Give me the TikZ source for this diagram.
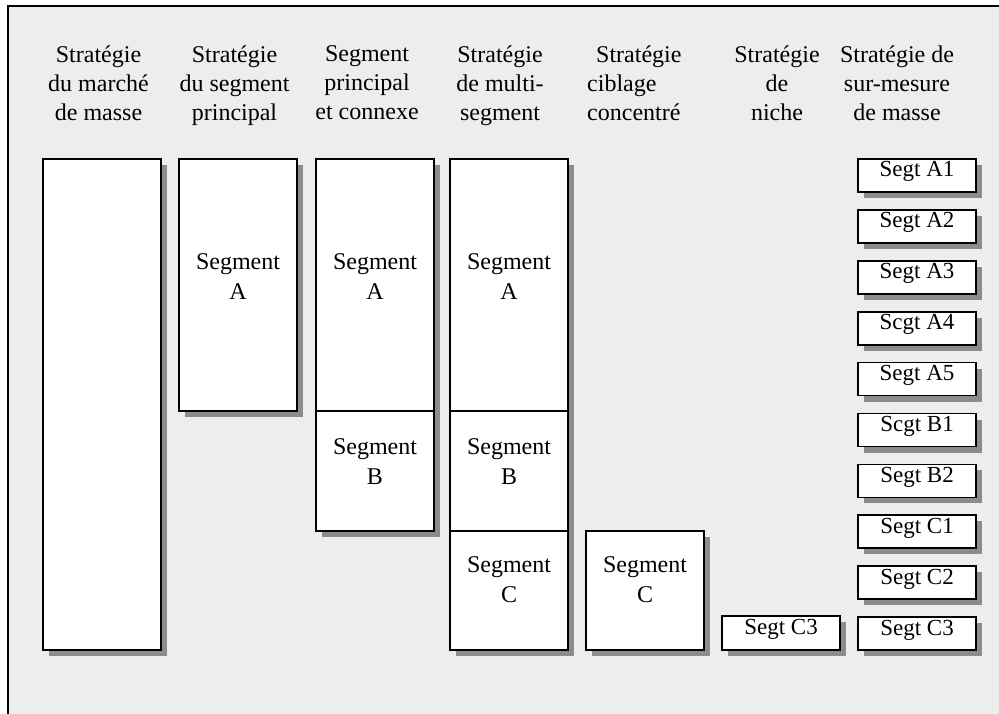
\documentclass[tikz,border=0pt]{standalone}
\usepackage{fontspec}
\setmainfont{Liberation Serif}
\usetikzlibrary{shadows}
\definecolor{bggrey}{HTML}{EDEDED}
\definecolor{shgrey}{HTML}{8C8C8C}
\begin{document}
\begin{tikzpicture}[x=1pt,y=-1pt,
  colbox/.style={rectangle, draw=black, line width=1.7pt, fill=white, inner sep=0pt,
    minimum width=118pt,
    general shadow={fill=shgrey, shadow xshift=6pt, shadow yshift=-6pt}},
  partbox/.style={rectangle, draw=black, line width=1.7pt, fill=white, inner sep=0pt,
    minimum width=118pt},
  hdr/.style={font=\fontsize{24}{29}\selectfont, align=center, anchor=north, inner sep=0pt},
  lbl/.style={font=\fontsize{24}{30}\selectfont, align=center, anchor=north, inner sep=0pt},
  segt/.style={font=\fontsize{23}{28}\selectfont, anchor=base, inner sep=0pt}]
\useasboundingbox (0,0) rectangle (999,714);
\fill[white] (0,0) rectangle (999,714);
\fill[bggrey] (8,6) rectangle (999,714);
\draw[line width=1.8pt] (8,714) -- (8,6) -- (999,6);

% headers
\node[hdr] (h1) at (98.5,45.5) {Stratégie\\du marché\\de masse};
\node[hdr] (h2) at (234.5,45.5) {Stratégie\\du segment\\principal};
\node[hdr] (h3) at (367,45.5) {Segment\\principal\\et connexe};
\node[hdr] (h4) at (500,45.5) {Stratégie\\de multi-\\segment};
\node[hdr, align=left, anchor=north west] (h5) at (587,45.5) {\hspace*{9pt}Stratégie\\ciblage\\concentré};
\node[hdr] (h6) at (777,45.5) {Stratégie\\de\\niche};
\node[hdr] (h7) at (897,45.5) {Stratégie de\\sur-mesure\\de masse};

% column 1
\node[colbox, minimum height=491pt] (c1) at (102,404.5) {};
% column 2
\node[colbox, minimum height=252pt] (c2) at (238,285) {};
\node[lbl] (l2a) at (238,253.5) {Segment\\A};
% column 3
\node[colbox, minimum height=372pt] (c3) at (375,345) {};
\node[partbox, minimum height=252pt] (c3a) at (375,285) {};
\node[partbox, minimum height=120pt] (c3b) at (375,471) {};
\node[lbl] (l3a) at (375,253.5) {Segment\\A};
\node[lbl] (l3b) at (375,438.5) {Segment\\B};
% column 4
\node[colbox, minimum height=491pt] (c4) at (509,404.5) {};
\node[partbox, minimum height=252pt] (c4a) at (509,285) {};
\node[partbox, minimum height=120pt] (c4b) at (509,471) {};
\node[partbox, minimum height=119pt] (c4c) at (509,590.5) {};
\node[lbl] (l4a) at (509,253.5) {Segment\\A};
\node[lbl] (l4b) at (509,438.5) {Segment\\B};
\node[lbl] (l4c) at (509,556.5) {Segment\\C};
% column 5
\node[colbox, minimum height=119pt] (c5) at (645,590.5) {};
\node[lbl] (l5c) at (645,556.5) {Segment\\C};
% column 6
\node[colbox, minimum height=34pt] (c6) at (781,633) {};
\node[segt] (l6) at (781,634) {Segt C3};
% column 7
\foreach \i/\t in {0/Segt A1,1/Segt A2,2/Segt A3,3/Scgt A4,4/Segt A5,5/Scgt B1,6/Segt B2,7/Segt C1,8/Segt C2,9/Segt C3}{
  \node[colbox, minimum height=33pt] (s\i) at (917,175.5+50.9*\i) {};
  \node[segt] (t\i) at (917,177+50.9*\i) {\t};
}
\end{tikzpicture}
\end{document}
